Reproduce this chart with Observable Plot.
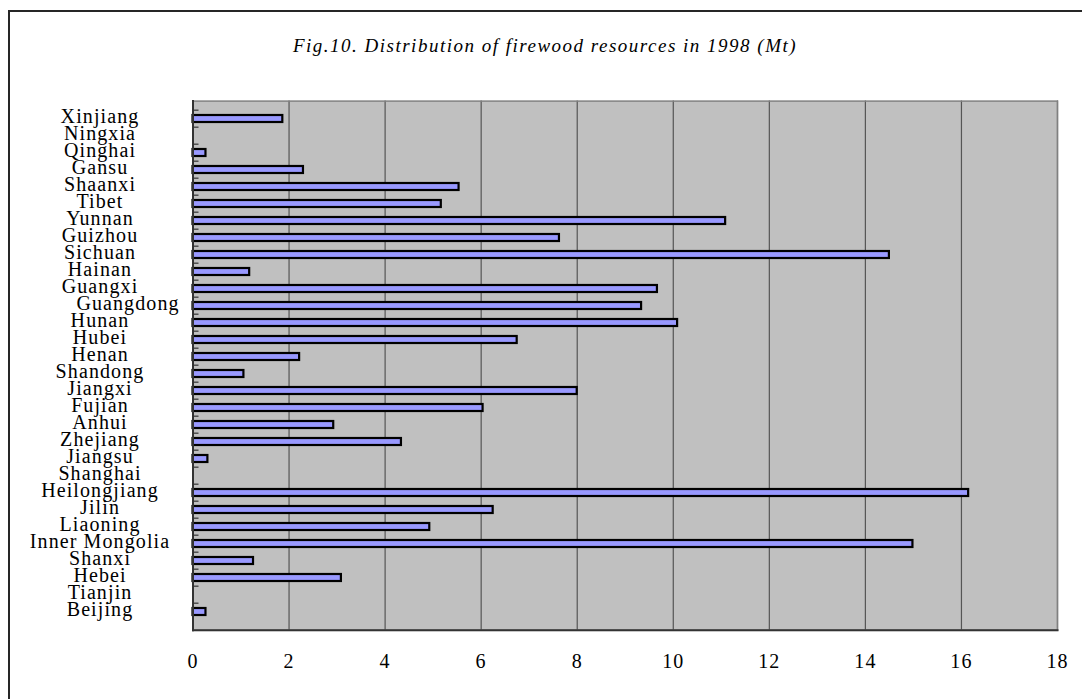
<!DOCTYPE html>
<html><head><meta charset="utf-8">
<script src="https://cdn.jsdelivr.net/npm/d3@7"></script>
<script src="https://cdn.jsdelivr.net/npm/@observablehq/plot@0.6"></script>
<style>
html,body{margin:0;padding:0;background:#fff;overflow:hidden;}
#wrap{position:relative;width:1082px;height:699px;overflow:hidden;}
#box{position:absolute;left:8px;top:10px;width:1200px;height:1000px;border:2px solid #262626;box-sizing:border-box;pointer-events:none;}
#title{position:absolute;left:0;top:0;width:1082px;height:75px;text-align:center;font:italic 19px "Liberation Serif","Times New Roman",serif;letter-spacing:1.5px;line-height:19px;padding-top:36px;padding-left:8px;box-sizing:border-box;color:#000;}
#chart{position:absolute;left:0;top:75px;}
</style></head><body>
<div id="wrap"><div id="box"></div><div id="title"></div><div id="chart"></div></div>
<script>
const titleText = "Fig.10. Distribution of firewood resources in 1998 (Mt)";
const provinces = ["Xinjiang","Ningxia","Qinghai","Gansu","Shaanxi","Tibet","Yunnan","Guizhou","Sichuan","Hainan","Guangxi","Guangdong","Hunan","Hubei","Henan","Shandong","Jiangxi","Fujian","Anhui","Zhejiang","Jiangsu","Shanghai","Heilongjiang","Jilin","Liaoning","Inner Mongolia","Shanxi","Hebei","Tianjin","Beijing"];
const firewood = [1.87,0,0.27,2.30,5.54,5.17,11.09,7.63,14.50,1.18,9.67,9.34,10.09,6.75,2.22,1.06,8.00,6.04,2.93,4.34,0.31,0,16.15,6.25,4.93,14.99,1.26,3.09,0,0.27];
const xTicks = [0,2,4,6,8,10,12,14,16,18];

document.getElementById("title").textContent = titleText;
const data = provinces.map((p, i) => ({province: p, value: firewood[i]}));

const W = 1082, H = 624, mT = 25.6, mB = 69.2, mL = 192.5, mR = 25;
const step = (H - mT - mB) / provinces.length;

const chart = Plot.plot({
  width: W, height: H,
  marginLeft: mL, marginRight: mR, marginTop: mT, marginBottom: mB,
  style: {fontFamily: '"Liberation Serif", "Times New Roman", serif', fontSize: "20px", background: "transparent", overflow: "visible", color: "#000"},
  x: {domain: [0, 18], ticks: xTicks, label: null},
  y: {domain: provinces, paddingInner: 0.6, paddingOuter: 0.3, label: null},
  marks: [
    Plot.frame({fill: "#c0c0c0"}),
    Plot.gridX(xTicks, {stroke: "#555", strokeOpacity: 1, strokeWidth: 1.2}),
    Plot.frame({stroke: "#808080", strokeWidth: 1.5}),
    Plot.axisY({tickSize: 6, dx: 6, dy: -step / 2, text: null, label: null, stroke: "#333", strokeWidth: 1.2}),
    Plot.barX(data.filter(d => d.value > 0), {x: "value", y: "province", fill: "#9999ff", stroke: "#000", strokeWidth: 2.2}),
    Plot.frame({anchor: "bottom", stroke: "#333", strokeWidth: 2}),
    Plot.frame({anchor: "left", stroke: "#333", strokeWidth: 2}),
    Plot.axisX({tickSize: 0, tickPadding: 23, fontSize: 20, fill: "#000", label: null}),
    Plot.text(data.filter(d => d.province !== "Guangdong"), {y: "province", text: "province", frameAnchor: "left", dx: -93, dy: -2, textAnchor: "middle", fontSize: 20, fill: "#000"}),
    Plot.text(data.filter(d => d.province === "Guangdong"), {y: "province", text: "province", frameAnchor: "left", dx: -65, dy: -2, textAnchor: "middle", fontSize: 20, fill: "#000"})
  ]
});
chart.style.letterSpacing = "1.1px";
document.getElementById("chart").appendChild(chart);
</script>
</body></html>
